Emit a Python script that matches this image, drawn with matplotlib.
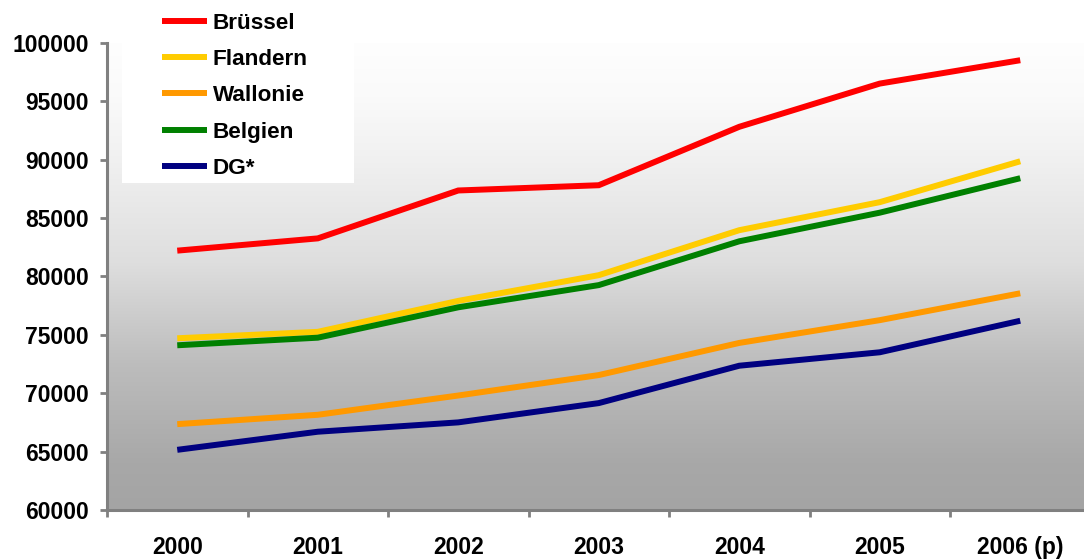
import numpy as np
import matplotlib.pyplot as plt
from matplotlib.patches import Rectangle

plt.rcParams['font.family'] = ['Liberation Sans', 'DejaVu Sans']
plt.rcParams['font.weight'] = 'bold'

# Categories and series
years = ['2000', '2001', '2002', '2003', '2004', '2005', '2006 (p)']
bruessel = [82200, 83250, 87350, 87800, 92800, 96500, 98500]
flandern = [74700, 75250, 77900, 80100, 83950, 86350, 89850]
wallonie = [67350, 68150, 69800, 71550, 74300, 76250, 78550]
belgien = [74100, 74750, 77350, 79250, 83000, 85450, 88400]
dg = [65150, 66700, 67500, 69150, 72350, 73500, 76200]

series = [
    ('Brüssel', bruessel, '#ff0000'),
    ('Flandern', flandern, '#ffcc00'),
    ('Wallonie', wallonie, '#ff9900'),
    ('Belgien', belgien, '#008000'),
    ('DG*', dg, '#000080'),
]

W, H = 1084, 559
fig = plt.figure(figsize=(W / 100, H / 100), dpi=100)
fig.patch.set_facecolor('white')

left, right, top, bottom = 107, 1084, 42.7, 510
ax = fig.add_axes([left / W, 1 - bottom / H, (right - left) / W, (bottom - top) / H])

# vertical gray gradient for the plot area
stops_px = np.array([42, 97, 163, 263, 363, 463, 510])
stops_gray = np.array([254, 250, 240, 222, 189, 168, 164]) / 255
rows = np.linspace(top, bottom, 400)
grad = np.interp(rows, stops_px, stops_gray)
img = np.repeat(grad[:, None], 2, axis=1)
img = np.dstack([img, img, img])

x = np.arange(len(years))
xmax = -0.5 + (right - left) / 140.5
ax.imshow(img, extent=[-0.5, xmax, 60000, 100000], aspect='auto',
          origin='upper', zorder=0, interpolation='bilinear')

for name, vals, col in series:
    ax.plot(x, vals, color=col, lw=4.3, label=name, solid_capstyle='butt',
            solid_joinstyle='miter', zorder=3)

ax.set_xlim(-0.5, xmax)
ax.set_ylim(60000, 100000)
ax.set_yticks(np.arange(60000, 100001, 5000))
ax.set_xticks(x)
ax.set_xticklabels(years)
ax.set_xticks(np.arange(-0.5, 6.0, 1.0), minor=True)

for s in ['top', 'right']:
    ax.spines[s].set_visible(False)
for s in ['left', 'bottom']:
    ax.spines[s].set_color('#808080')
    ax.spines[s].set_linewidth(2.2)

ax.tick_params(axis='x', which='major', length=0, pad=19, labelsize=16.5)
ax.tick_params(axis='x', which='minor', length=5, width=2, color='#808080',
               direction='out')
ax.tick_params(axis='y', length=5, width=2, color='#808080', direction='out',
               pad=8, labelsize=16.5)

# white box behind the legend
fig.patches.append(Rectangle((122 / W, 1 - 183 / H), 232 / W, 183 / H,
                             transform=fig.transFigure, facecolor='white',
                             edgecolor='none', zorder=4))

leg = fig.legend(loc='upper left', bbox_to_anchor=(155 / W, 1 - 6 / H),
                 frameon=False, fontsize=16.2, handlelength=2.0,
                 handletextpad=0.27, labelspacing=0.68, borderaxespad=0,
                 borderpad=0.3)
leg.set_zorder(5)
for line in leg.get_lines():
    line.set_linewidth(4.3)

fig.savefig('out.png', dpi=100)
